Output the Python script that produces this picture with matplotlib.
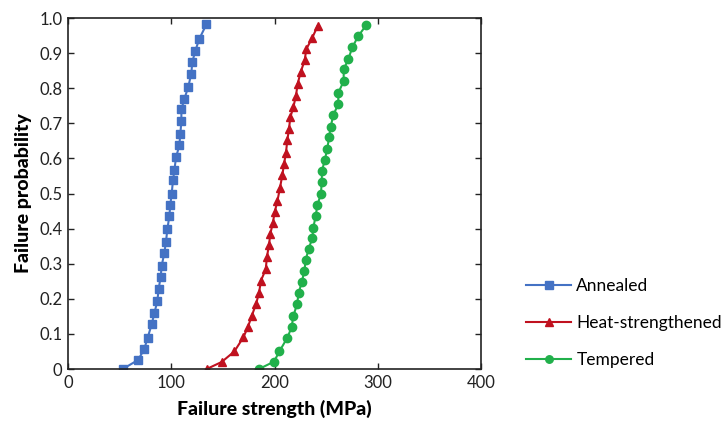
import numpy as np
import matplotlib
matplotlib.use("Agg")
import matplotlib.pyplot as plt

plt.rcParams["font.family"] = ["Lato", "DejaVu Sans"]

# Failure strength (MPa) and cumulative failure probability
annealed_x = [53, 68, 74, 77, 81, 83.6, 86.5, 87.8, 89.8, 90.7, 93.3, 94.9, 96.2, 98.1, 99.1,
              100.4, 101.7, 103, 104.6, 107.8, 108.8, 109.8, 109.8, 112.7, 116.5, 119.4, 120.4,
              123.3, 127.2, 134]
annealed_p = [0, 0.026, 0.058, 0.088, 0.127, 0.159, 0.193, 0.229, 0.263, 0.294, 0.331, 0.363,
              0.398, 0.435, 0.468, 0.5, 0.538, 0.566, 0.603, 0.637, 0.671, 0.706, 0.740, 0.770,
              0.804, 0.842, 0.875, 0.907, 0.941, 0.982]

heat_x = [134.3, 148.8, 161.1, 169.8, 174.3, 177.9, 182.1, 185, 186.9, 191.5, 192.7, 194.7, 196,
          198.3, 200.2, 202.8, 205.3, 207.6, 209.2, 211.1, 212.4, 214, 215.3, 218.3, 220.8,
          222.4, 225.3, 229.3, 230.7, 236.6, 241.7]
heat_p = [0, 0.02, 0.05, 0.09, 0.12, 0.151, 0.185, 0.217, 0.252, 0.284, 0.320, 0.354, 0.386,
          0.415, 0.447, 0.479, 0.516, 0.553, 0.584, 0.616, 0.652, 0.683, 0.717, 0.747, 0.779,
          0.812, 0.846, 0.880, 0.911, 0.944, 0.977]

tempered_x = [185, 199.5, 204.7, 212.4, 216.6, 218.2, 221.8, 223.4, 226.3, 228.9, 230.2, 233.1,
              236.6, 237.6, 239.9, 241.5, 245, 245.7, 246, 248.6, 251.1, 252.8, 254.4, 257,
              261.8, 261.8, 267, 267, 271.5, 275.4, 281.2, 288.6]
tempered_p = [0, 0.021, 0.05, 0.089, 0.119, 0.151, 0.184, 0.216, 0.247, 0.278, 0.310, 0.343,
              0.372, 0.403, 0.436, 0.467, 0.499, 0.534, 0.564, 0.595, 0.626, 0.660, 0.690,
              0.724, 0.755, 0.787, 0.820, 0.854, 0.883, 0.917, 0.949, 0.979]

x_ticks = [0, 100, 200, 300, 400]
y_ticks = np.round(np.arange(0, 1.01, 0.1), 1)
y_labels = ["0"] + ["%.1f" % v for v in y_ticks[1:]]

fig = plt.figure(figsize=(7.26, 4.21), dpi=100)
ax = fig.add_axes([0.0937, 0.1235, 0.5688, 0.8335])

ax.plot(annealed_x, annealed_p, "s-", color="#4472c4", markersize=6, linewidth=1.5,
        label="Annealed")
ax.plot(heat_x, heat_p, "^-", color="#c0111f", markersize=6, linewidth=1.5,
        label="Heat-strengthened")
ax.plot(tempered_x, tempered_p, "o-", color="#21b04b", markersize=6, linewidth=1.5,
        label="Tempered")

ax.set_xlim(0, 400)
ax.set_ylim(0, 1.0)
ax.set_xticks(x_ticks)
ax.set_yticks(y_ticks)
ax.set_yticklabels(y_labels)
ax.tick_params(direction="in", length=4, width=1, top=True, right=True,
               labelsize=12, colors="#222222", pad=4)
for s in ax.spines.values():
    s.set_linewidth(1.2)
    s.set_color("#222222")

ax.set_xlabel("Failure strength (MPa)", fontsize=14, fontweight="black", labelpad=7)
ax.set_ylabel("Failure probability", fontsize=14, fontweight="black", labelpad=5)

fig.legend(loc="upper left", bbox_to_anchor=(0.715, 0.355), frameon=False, fontsize=12.5,
           handlelength=2.6, labelspacing=1.2, handletextpad=0.3, markerscale=0.9,
           borderaxespad=0)

fig.savefig("out.png", dpi=100)
